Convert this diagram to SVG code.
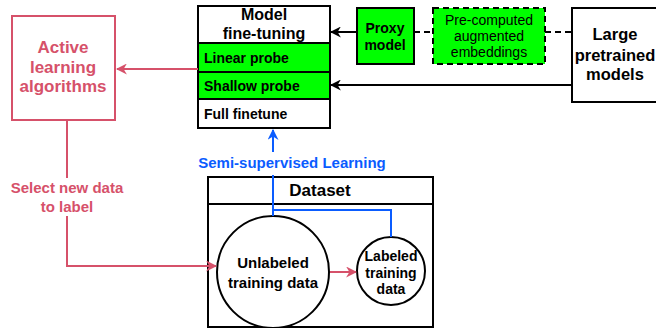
<svg xmlns="http://www.w3.org/2000/svg" width="656" height="328" viewBox="0 0 656 328">
<style>
text{font-family:"Liberation Sans",Arial,sans-serif;font-weight:bold;text-anchor:middle;fill:#000}
.box{fill:#fff;stroke:#000;stroke-width:2}
.green{fill:#00ff00;stroke:#000;stroke-width:2}
.red{fill:none;stroke:#d6516a;stroke-width:2}
.blue{fill:none;stroke:#0a5cff;stroke-width:2}
.blk{fill:none;stroke:#000;stroke-width:2}
.dash{fill:none;stroke:#000;stroke-width:2;stroke-dasharray:6 4}
.l{text-anchor:start}
.n{font-weight:normal}
.rt{fill:#d6516a}
.bt{fill:#0a5cff}
</style>
<defs>
<marker id="aB" viewBox="0 0 10 10" refX="9" refY="5" markerWidth="11" markerHeight="11" orient="auto" markerUnits="userSpaceOnUse"><path d="M0,0 L10,5 L0,10 L3,5 z" fill="#0a5cff"/></marker>
<marker id="aK" viewBox="0 0 10 10" refX="9" refY="5" markerWidth="11" markerHeight="11" orient="auto" markerUnits="userSpaceOnUse"><path d="M0,0 L10,5 L0,10 L3,5 z" fill="#000"/></marker>
<marker id="aR" viewBox="0 0 10 10" refX="9" refY="5" markerWidth="11" markerHeight="11" orient="auto" markerUnits="userSpaceOnUse"><path d="M0,0 L10,5 L0,10 L3,5 z" fill="#d6516a"/></marker>
</defs>
<g id="active">
<rect x="12" y="16" width="103" height="104" fill="#fff" stroke="#d6516a" stroke-width="2"/>
<text class="rt" x="63" y="53" font-size="17">Active</text>
<text class="rt" x="63" y="73" font-size="17">learning</text>
<text class="rt" x="63" y="92" font-size="17">algorithms</text>
</g>
<g id="model">
<rect class="box" x="198" y="6" width="132" height="122"/>
<text x="264" y="20" font-size="16">Model</text>
<text x="264" y="39" font-size="16">fine-tuning</text>
<rect class="green" x="198" y="43" width="132" height="29"/>
<text class="l" x="204" y="63" font-size="14">Linear probe</text>
<rect class="green" x="198" y="72" width="132" height="27"/>
<text class="l" x="204" y="91" font-size="14">Shallow probe</text>
<text class="l" x="204" y="119" font-size="14">Full finetune</text>
</g>
<g id="proxy">
<rect class="green" x="357" y="8" width="57" height="56"/>
<text x="385" y="33" font-size="14">Proxy</text>
<text x="385" y="50" font-size="14">model</text>
</g>
<g id="precomputed">
<rect x="433" y="8" width="112" height="56" fill="#00ff00" stroke="#000" stroke-width="2" stroke-dasharray="6 4"/>
<text class="n" x="489" y="25" font-size="14">Pre-computed</text>
<text class="n" x="489" y="41" font-size="14">augmented</text>
<text class="n" x="489" y="57" font-size="14">embeddings</text>
</g>
<g id="large">
<rect class="box" x="572" y="8" width="100" height="94"/>
<text x="615" y="40" font-size="16.5">Large</text>
<text x="615" y="61" font-size="16.5">pretrained</text>
<text x="615" y="80" font-size="16.5">models</text>
</g>
<g id="dataset">
<rect class="box" x="208" y="177" width="225" height="150"/>
<line class="blk" x1="208" y1="204" x2="433" y2="204"/>
<text x="320" y="196" font-size="17">Dataset</text>
</g>
<g id="unlabeled">
<circle class="box" cx="273" cy="272" r="56"/>
<text x="273" y="268" font-size="15">Unlabeled</text>
<text x="273" y="288" font-size="15">training data</text>
</g>
<g id="labeled">
<circle class="box" cx="391" cy="271" r="34"/>
<text x="391" y="261" font-size="14">Labeled</text>
<text x="391" y="278" font-size="14">training</text>
<text x="391" y="294" font-size="14">data</text>
</g>
<g id="connectors">
<path class="red" d="M198,69 H117" marker-end="url(#aR)"/>
<path class="red" d="M67,120 V178"/>
<path class="red" d="M67,216 V266 H216" marker-end="url(#aR)"/>
<path class="red" d="M330,272 H356" marker-end="url(#aR)"/>
<path class="blue" d="M391,237 V210 H273"/>
<path class="blue" d="M273,216 V175"/>
<path class="blue" d="M273,152 V130" marker-end="url(#aB)"/>
<path class="blk" d="M357,32 H331" marker-end="url(#aK)"/>
<path class="dash" d="M414,32 H433"/>
<path class="dash" d="M545,32 H572"/>
<path class="blk" d="M572,85 H331" marker-end="url(#aK)"/>
<text class="rt" x="67" y="193" font-size="15">Select new data</text>
<text class="rt" x="67" y="212" font-size="15">to label</text>
<text class="bt" x="292" y="168" font-size="15">Semi-supervised Learning</text>
</g>
</svg>
